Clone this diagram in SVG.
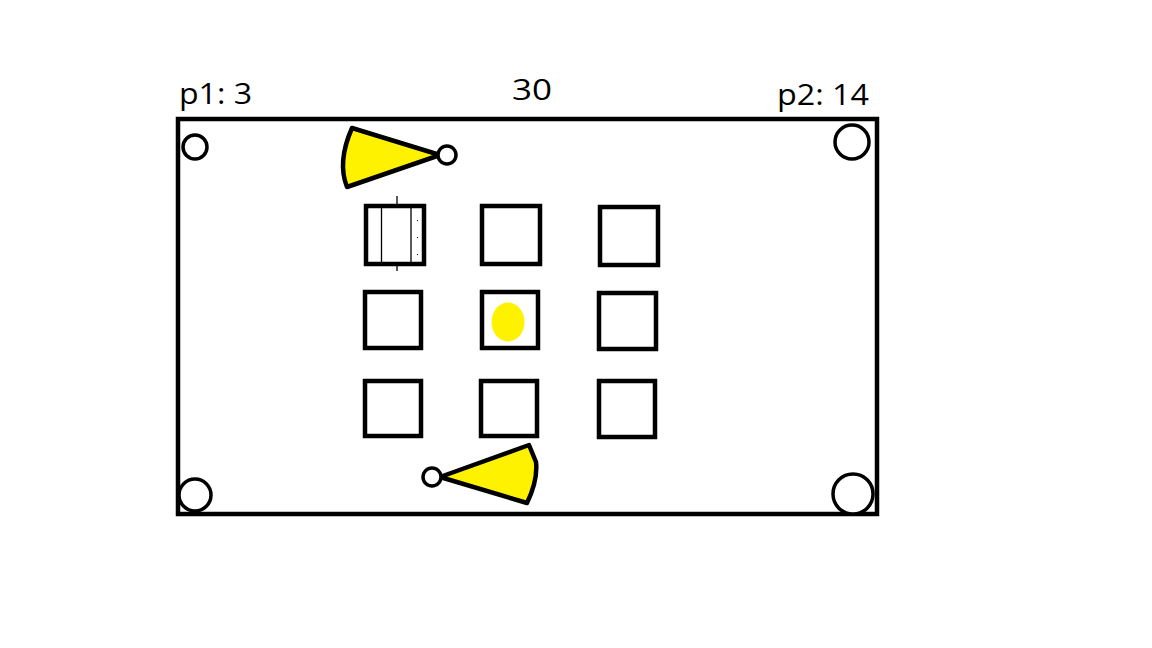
<svg xmlns="http://www.w3.org/2000/svg" width="1152" height="648" viewBox="0 0 1152 648">
<style>
.ln{fill:none;stroke:#000;stroke-width:4.5}
.c{fill:#fff;stroke:#000;stroke-width:3.5}
.cone{fill:#FFF200;stroke:#000;stroke-width:4.5;stroke-linejoin:round}
.sq{fill:none;stroke:#000;stroke-width:4.5}
.t{font-family:"Open Sans","DejaVu Sans",sans-serif;font-size:29px;fill:#000}
.thin{stroke:#000;stroke-width:1.3;fill:none}
</style>
<rect width="1152" height="648" fill="#fff"/>
<g id="labels">
<text class="t" x="179" y="104" textLength="73" lengthAdjust="spacingAndGlyphs">p1: 3</text>
<text class="t" x="512" y="100" textLength="40" lengthAdjust="spacingAndGlyphs">30</text>
<text class="t" x="777" y="105" textLength="92" lengthAdjust="spacingAndGlyphs">p2: 14</text>
</g>
<g id="board">
<rect class="ln" x="178" y="119" width="699" height="395"/>
</g>
<g id="holes">
<circle class="c" cx="195" cy="147" r="12"/>
<circle class="c" cx="852" cy="142" r="17"/>
<circle class="c" cx="195" cy="495" r="16"/>
<circle class="c" cx="853" cy="494" r="20"/>
</g>
<g id="cone-top">
<path class="cone" d="M352,128 L440,155 L347,187 Q337,162 352,128 Z"/>
<circle class="c" cx="447" cy="155" r="9"/>
</g>
<g id="cone-bottom">
<path class="cone" d="M440,477 L529,445 L536,462 Q538,480 527,503 Z"/>
<circle class="c" cx="432" cy="477" r="9"/>
</g>
<g id="grid">
<g id="sq11">
<rect class="sq" x="366" y="206" width="58" height="58"/>
<line class="thin" x1="381.5" y1="207" x2="381.5" y2="263"/>
<line class="thin" x1="411" y1="207" x2="411" y2="263"/>
<line class="thin" x1="397" y1="196" x2="397" y2="204"/>
<line class="thin" x1="397" y1="266" x2="397" y2="271"/>
<rect x="417" y="220" width="1" height="1" fill="#000"/>
<rect x="417" y="237" width="1" height="1" fill="#000"/>
<rect x="417" y="254" width="1" height="1" fill="#000"/>
</g>
<rect id="sq12" class="sq" x="482" y="206" width="58" height="58"/>
<rect id="sq13" class="sq" x="600" y="207" width="58" height="58"/>
<rect id="sq21" class="sq" x="365" y="292" width="56" height="56"/>
<g id="sq22">
<rect class="sq" x="482" y="292" width="56" height="56"/>
<ellipse cx="508" cy="322" rx="16.5" ry="19.5" fill="#FFF200"/>
</g>
<rect id="sq23" class="sq" x="599" y="293" width="57" height="56"/>
<rect id="sq31" class="sq" x="365" y="381" width="56" height="55"/>
<rect id="sq32" class="sq" x="481" y="381" width="56" height="55"/>
<rect id="sq33" class="sq" x="599" y="381" width="56" height="56"/>
</g>
<g id="connectors"></g>
</svg>
